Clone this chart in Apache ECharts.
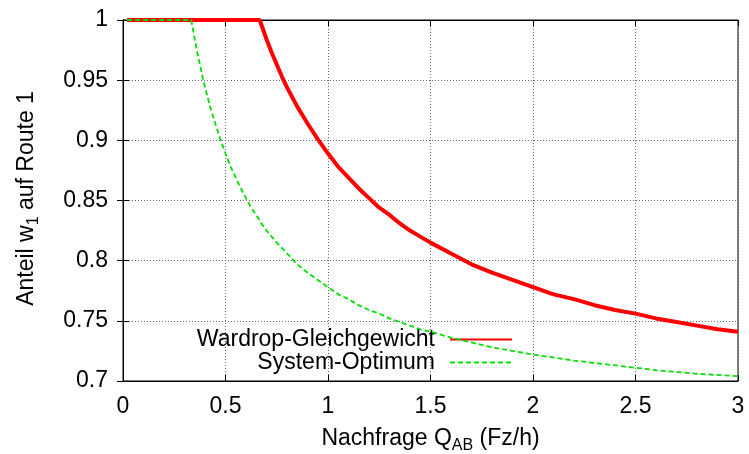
<!DOCTYPE html>
<html><head><meta charset="utf-8">
<script src="https://cdn.jsdelivr.net/npm/echarts@6/dist/echarts.min.js"></script>
<style>html,body{margin:0;padding:0;background:#fff}#c{width:749px;height:454px}</style>
</head><body><div id="c"></div>
<script>
const wardropX = [0.02, 0.667, 0.7, 0.725, 0.75, 0.775, 0.8, 0.825, 0.85, 0.875, 0.9, 0.95, 1.0, 1.05, 1.1, 1.15, 1.2, 1.25, 1.3, 1.35, 1.4, 1.45, 1.5, 1.6, 1.7, 1.8, 1.9, 2.0, 2.1, 2.2, 2.3, 2.4, 2.5, 2.6, 2.7, 2.8, 2.9, 3.0];
const wardropY = [1.0, 1.0, 0.984, 0.973, 0.963, 0.953, 0.944, 0.936, 0.928, 0.921, 0.914, 0.901, 0.889, 0.878, 0.869, 0.860, 0.852, 0.844, 0.838, 0.831, 0.825, 0.820, 0.815, 0.806, 0.797, 0.790, 0.784, 0.778, 0.772, 0.768, 0.763, 0.759, 0.756, 0.752, 0.749, 0.746, 0.743, 0.741];
const systemX = [0.02, 0.333, 0.35, 0.3625, 0.375, 0.3875, 0.4, 0.4125, 0.425, 0.4375, 0.45, 0.475, 0.5, 0.525, 0.55, 0.575, 0.6, 0.625, 0.65, 0.675, 0.7, 0.725, 0.75, 0.8, 0.85, 0.9, 0.95, 1.0, 1.05, 1.1, 1.15, 1.2, 1.25, 1.3, 1.35, 1.4, 1.45, 1.5, 1.6, 1.7, 1.8, 1.9, 2.0, 2.2, 2.4, 2.6, 2.8, 3.0];
const systemY = [1.0, 1.0, 0.984, 0.973, 0.963, 0.953, 0.944, 0.936, 0.928, 0.921, 0.914, 0.901, 0.889, 0.878, 0.869, 0.860, 0.852, 0.844, 0.838, 0.831, 0.825, 0.820, 0.815, 0.806, 0.797, 0.790, 0.784, 0.778, 0.772, 0.768, 0.763, 0.759, 0.756, 0.752, 0.749, 0.746, 0.743, 0.741, 0.736, 0.732, 0.728, 0.725, 0.722, 0.717, 0.713, 0.709, 0.706, 0.704];
const seriesNames = ['Wardrop-Gleichgewicht', 'System-Optimum'];

const FONT = 'Liberation Sans, Arial, sans-serif';
const FS = 23;
const zip = (xs, ys) => xs.map((x, i) => [x, ys[i]]);
const chart = echarts.init(document.getElementById('c'));
const gridLine = {show: true, lineStyle: {color: '#666', type: [1, 2], width: 1}};
const rich = {n: {fontFamily: FONT, fontSize: FS, color: '#000'}, s: {fontFamily: FONT, fontSize: 16, color: '#000', padding: [14, 0, 0, 0]}};
const legendCommon = {orient: 'vertical', right: 231, itemWidth: 62, itemHeight: 14, align: 'right', selectedMode: false,
  itemStyle: {opacity: 0},
  textStyle: {fontFamily: FONT, fontSize: FS, color: '#000', padding: [0, 10, 0, 0]}};
chart.setOption({
  animation: false,
  grid: {left: 123, right: 11, top: 20, bottom: 73, show: true, borderColor: '#000', borderWidth: 1, outerBoundsMode: 'none', containLabel: false},
  legend: [
    Object.assign({data: [seriesNames[0]], top: 323}, legendCommon),
    Object.assign({data: [seriesNames[1]], top: 346}, legendCommon)
  ],
  xAxis: [{
    type: 'value', min: 0, max: 3, interval: 0.5,
    axisLine: {lineStyle: {color: '#000', width: 1}},
    axisTick: {inside: true, length: 6, lineStyle: {color: '#000'}},
    axisLabel: {fontFamily: FONT, fontSize: FS, color: '#000', margin: 14},
    splitLine: gridLine,
    name: '{n|Nachfrage Q}{s|AB}{n| (Fz/h)}', nameLocation: 'middle', nameGap: 43,
    nameTextStyle: {rich}
  }, {
    type: 'value', min: 0, max: 3, interval: 0.5, position: 'top',
    axisLine: {lineStyle: {color: '#000'}}, axisTick: {inside: true, length: 6, lineStyle: {color: '#000'}},
    axisLabel: {show: false}, splitLine: {show: false}
  }],
  yAxis: [{
    type: 'value', min: 0.7, max: 1, interval: 0.05,
    axisLine: {show: true, lineStyle: {color: '#000', width: 1}},
    axisTick: {show: true, inside: true, length: 6, lineStyle: {color: '#000'}},
    axisLabel: {fontFamily: FONT, fontSize: FS, color: '#000', margin: 15, formatter: v => String(Math.round(v * 100) / 100)},
    splitLine: gridLine,
    name: '{n|Anteil w}{s|1}{n| auf Route 1}', nameLocation: 'middle', nameGap: 81, nameRotate: 90,
    nameTextStyle: {rich, padding: [0, 0, 0, 4]}
  }, {
    type: 'value', min: 0.7, max: 1, interval: 0.05, position: 'right',
    axisLine: {show: true, lineStyle: {color: '#000'}}, axisTick: {show: true, inside: true, length: 6, lineStyle: {color: '#000'}},
    axisLabel: {show: false}, splitLine: {show: false}
  }],
  series: [
    {name: seriesNames[0], type: 'line', data: zip(wardropX, wardropY), symbol: 'none', clip: false,
     lineStyle: {color: '#ff0000', width: 4}, itemStyle: {color: '#ff0000'}, z: 5},
    {name: seriesNames[1], type: 'line', data: zip(systemX, systemY), symbol: 'none', clip: false,
     lineStyle: {color: '#00e000', width: 1.8, type: [5, 3]}, itemStyle: {color: '#00e000'}, z: 6}
  ]
});
</script></body></html>
